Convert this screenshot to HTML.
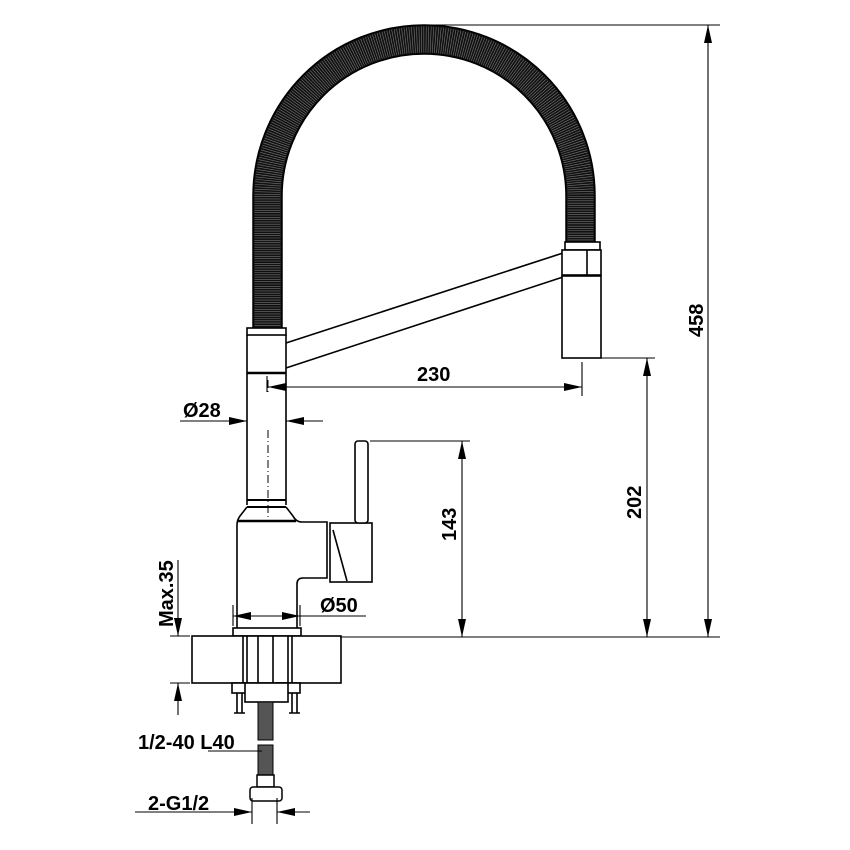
<!DOCTYPE html>
<html><head><meta charset="utf-8"><style>
html,body{margin:0;padding:0;background:#fff}
svg{display:block}
text{font-family:"Liberation Sans",Arial,sans-serif;font-weight:bold;font-size:20px;fill:#000}
</style></head><body>
<svg width="850" height="850" viewBox="0 0 850 850" xmlns="http://www.w3.org/2000/svg">
<defs>
<marker id="a" markerWidth="18" markerHeight="10" refX="18" refY="5" orient="auto-start-reverse" markerUnits="userSpaceOnUse">
<path d="M0,1 L18,5 L0,9 Z" fill="#000"/></marker>
</defs>
<g fill="none" stroke="#000">
<path d="M267.5,328 L267.5,196 A156.5,156.5 0 0 1 580.5,196 L580.5,242" stroke="#111" stroke-width="29"/>
<path d="M267.5,328 L267.5,196 A156.5,156.5 0 0 1 580.5,196 L580.5,242" stroke="#777" stroke-width="26" stroke-dasharray="0.6 1.7"/>
<path d="M253,328 L253,196 A171,171 0 0 1 595,196 L595,242 M282,328 L282,196 A142,142 0 0 1 566,196 L566,242" stroke-width="1.5"/>
<g stroke-width="1.6">
<rect x="247" y="328" width="39" height="7" fill="#fff"/>
<path d="M247,335 V505 M286,335 V505"/>
<path d="M247,373 H286" stroke-width="2.5"/>
<path d="M247,500 H286 M247,507 H286" stroke-width="2"/>
<path d="M247,507 L240,516 Q237,520 237,525 V630 M286,507 L293,516 Q296,522 302,522 H327 V578 H303 Q297,578 297,584 V630"/>
<path d="M237,521 H296" stroke-width="2.5"/>
<path d="M268,380 V395 M268,430 V520" stroke-width="1" stroke-dasharray="8 3 1 3"/>
<path d="M286,343 L563,253 M286,368 L563,277"/>
<rect x="565" y="242" width="35" height="8" fill="#fff"/>
<rect x="562" y="250" width="39" height="25" fill="#fff"/>
<path d="M587,250 V275"/>
<path d="M562,276 H601" stroke-width="3"/>
<rect x="562" y="276" width="39" height="82" fill="#fff"/>
<rect x="330" y="523" width="42" height="59" fill="#fff"/>
<path d="M333,530 L347,581"/>
<rect x="355" y="441" width="13" height="82" rx="3" fill="#fff"/>
<rect x="233" y="628" width="68" height="8" fill="#fff"/>
<rect x="192" y="636" width="149" height="47" fill="#fff"/>
<path d="M243,636 V683 M247,636 V683 M258,636 V683 M273,636 V683 M288,636 V683 M292,636 V683"/>
<rect x="232" y="683" width="16" height="10" fill="#fff"/>
<rect x="277" y="683" width="23" height="10" fill="#fff"/>
<rect x="245" y="683" width="43" height="19" fill="#fff"/>
<path d="M237,693 V713 M242,693 V713 M292,693 V713 M297,693 V713 M234,713 H245 M289,713 H300"/>
</g>
<rect x="258" y="702" width="15" height="38" fill="#555" stroke="#000"/>
<rect x="258" y="745" width="15" height="30" fill="#555" stroke="#000"/>
<rect x="257" y="775" width="17" height="12" fill="#fff" stroke="#000" stroke-width="1.5"/>
<rect x="250" y="787" width="32" height="14" rx="3" fill="#fff" stroke="#000" stroke-width="1.5"/>
<g stroke-width="1.1">
<path d="M424,25 H720"/>
<path d="M601,358 H655 M370,441 H470 M340,637 H720"/>
<path d="M708,25 V637" marker-start="url(#a)" marker-end="url(#a)"/>
<path d="M647,358 V637" marker-start="url(#a)" marker-end="url(#a)"/>
<path d="M462,441 V637" marker-start="url(#a)" marker-end="url(#a)"/>
<path d="M268,387 H582" marker-start="url(#a)" marker-end="url(#a)"/>
<path d="M582,362 V396 M267,376 V392"/>
<path d="M180,421 H247" marker-end="url(#a)"/>
<path d="M323,421 H286" marker-end="url(#a)"/>
<path d="M233,605 V626 M300,605 V626"/>
<path d="M233,616 H300" marker-start="url(#a)" marker-end="url(#a)"/>
<path d="M300,616 H366"/>
<path d="M170,636 H190 M170,683 H190"/>
<path d="M178,560 V636" marker-end="url(#a)"/>
<path d="M178,715 V683" marker-end="url(#a)"/>
<path d="M208,751 H262"/>
<path d="M135,812 H252" marker-end="url(#a)"/>
<path d="M310,812 H277" marker-end="url(#a)"/>
<path d="M252,798 V824 M277,798 V824"/>
</g>
</g>
<text x="417" y="381">230</text>
<text x="183" y="417">Ø28</text>
<text x="320" y="612">Ø50</text>
<text x="138" y="749">1/2-40 L40</text>
<text x="148" y="810">2-G1/2</text>
<text transform="translate(456,541) rotate(-90)">143</text>
<text transform="translate(641,519) rotate(-90)">202</text>
<text transform="translate(703,337) rotate(-90)">458</text>
<text transform="translate(173,627) rotate(-90)">Max.35</text>
</svg>
</body></html>
